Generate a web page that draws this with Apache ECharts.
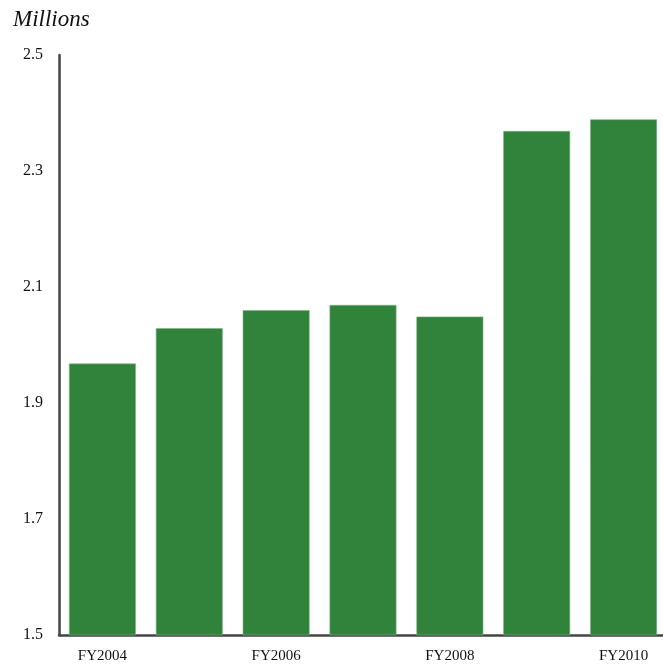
<!DOCTYPE html>
<html>
<head>
<meta charset="utf-8">
<script src="https://cdn.jsdelivr.net/npm/echarts@6/dist/echarts.min.js"></script>
<style>
html,body{margin:0;padding:0;background:#fff;overflow:hidden;}
#chart{width:667px;height:666px;}
</style>
</head>
<body>
<div id="chart"></div>
<script>
const categories = ['FY2004','FY2005','FY2006','FY2007','FY2008','FY2009','FY2010'];
const values = [1.968, 2.029, 2.060, 2.069, 2.049, 2.369, 2.389];
const yTicks = [1.5, 1.7, 1.9, 2.1, 2.3, 2.5];
const unitLabel = 'Millions';

const chart = echarts.init(document.getElementById('chart'));
const serif = '"Liberation Serif", "DejaVu Serif", serif';
chart.setOption({
  animation: false,
  backgroundColor: '#ffffff',
  title: {
    text: unitLabel,
    left: 8, top: 3,
    textStyle: {fontFamily: serif, fontStyle: 'italic', fontWeight: 'normal', fontSize: 23, color: '#111'}
  },
  grid: {left: 59, right: 0, top: 55, bottom: 31, containLabel: false},
  xAxis: {
    type: 'category',
    data: categories,
    axisLine: {lineStyle: {color: '#444', width: 2.5}},
    axisTick: {show: false},
    axisLabel: {interval: 1, fontFamily: serif, fontSize: 15, color: '#111', margin: 14}
  },
  yAxis: {
    type: 'value',
    min: yTicks[0], max: yTicks[yTicks.length - 1], interval: 0.2,
    axisLine: {show: true, lineStyle: {color: '#444', width: 2.5}},
    axisTick: {show: false},
    splitLine: {show: false},
    axisLabel: {fontFamily: serif, fontSize: 16, color: '#111', margin: 16,
      formatter: v => v.toFixed(1)}
  },
  series: [{
    type: 'bar',
    data: values,
    barCategoryGap: '23%',
    itemStyle: {color: '#31823b', borderColor: '#7fb287', borderWidth: 0.6}
  }]
});
</script>
</body>
</html>
